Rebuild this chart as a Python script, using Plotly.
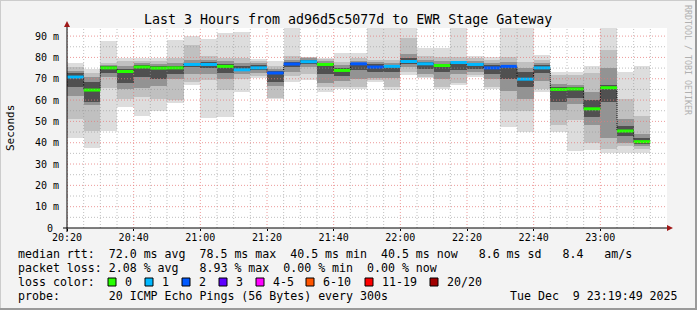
import plotly.graph_objects as go
import pandas as pd

DAY = "2025-12-09 "
bar_start = ["20:20", "20:25", "20:30", "20:35", "20:40", "20:45", "20:50", "20:55",
             "21:00", "21:05", "21:10", "21:15", "21:20", "21:25", "21:30", "21:35",
             "21:40", "21:45", "21:50", "21:55", "22:00", "22:05", "22:10", "22:15",
             "22:20", "22:25", "22:30", "22:35", "22:40", "22:45", "22:50", "22:55",
             "23:00", "23:05", "23:10"]
# RTT smoke (ms): min / percentiles / max per 5-minute step
rtt_min = [42.0, 37.6, 45.6, 56.6, 52.4, 54.7, 58.4, 67.2, 51.8, 52.2, 64.0, 70.2, 60.4, 68.5, 69.6, 64.0, 65.3, 65.0,
           68.7, 64.8, 71.9, 70.3, 65.0, 67.2, 71.0, 65.4, 47.6, 45.0, 64.0, 45.0, 36.0, 36.7, 35.2, 35.2, 35.2]
rtt_p10 = [51.0, 45.3, 65.6, 60.3, 61.6, 60.3, 60.0, 68.5, 69.6, 64.8, 70.0, 71.2, 61.0, 71.5, 72.0, 66.0, 66.0, 66.0,
           69.5, 66.0, 73.0, 71.0, 66.0, 68.0, 71.8, 66.0, 55.0, 55.0, 65.0, 48.5, 50.6, 40.0, 37.0, 38.3, 37.0]
rtt_p25 = [62.0, 57.5, 71.0, 65.4, 65.6, 66.4, 70.0, 72.0, 72.0, 70.0, 72.0, 72.5, 66.4, 73.0, 75.5, 68.0, 69.0, 70.0,
           70.5, 70.3, 75.5, 72.0, 70.0, 72.0, 73.0, 70.0, 64.4, 60.6, 69.0, 55.5, 58.0, 48.5, 42.0, 40.0, 38.5]
rtt_p40 = [66.0, 59.0, 72.5, 68.0, 71.0, 70.0, 72.0, 75.5, 75.0, 72.5, 73.5, 74.0, 68.5, 75.5, 77.0, 72.0, 71.5, 74.0,
           73.0, 73.0, 77.0, 74.5, 73.0, 74.2, 74.5, 72.0, 70.0, 66.0, 72.5, 59.0, 61.0, 52.0, 59.0, 43.0, 39.5]
rtt_med = [70.8, 64.7, 75.1, 73.4, 75.5, 75.0, 75.1, 76.7, 76.7, 75.8, 74.2, 75.1, 72.7, 76.9, 78.0, 76.7, 73.9, 77.0,
           75.5, 75.8, 78.1, 77.0, 76.2, 77.6, 76.7, 75.1, 75.8, 69.8, 75.1, 65.0, 65.2, 55.9, 65.8, 45.5, 40.5]
rtt_p60 = [72.5, 68.7, 75.8, 74.5, 76.5, 76.0, 76.0, 77.5, 78.0, 77.0, 76.0, 76.5, 73.5, 78.0, 79.0, 77.5, 75.0, 77.5,
           77.0, 76.5, 79.5, 78.0, 77.0, 77.5, 77.5, 76.5, 76.5, 73.4, 76.5, 66.0, 66.0, 60.0, 67.0, 48.0, 42.0]
rtt_p75 = [73.5, 71.0, 76.5, 76.0, 77.5, 77.0, 77.5, 79.0, 79.0, 78.5, 77.5, 77.5, 74.5, 79.0, 79.5, 78.5, 76.5, 78.5,
           78.0, 77.5, 81.7, 79.0, 78.5, 78.5, 78.5, 77.5, 78.0, 75.0, 77.5, 67.5, 67.0, 64.0, 75.0, 50.9, 44.0]
rtt_p90 = [75.7, 72.6, 77.3, 78.1, 78.5, 78.5, 79.7, 86.0, 80.5, 79.5, 79.7, 78.5, 76.0, 80.5, 80.0, 79.2, 78.0, 79.5,
           79.0, 79.0, 89.0, 80.5, 80.0, 80.4, 79.5, 79.0, 80.4, 78.0, 79.0, 71.9, 71.9, 72.7, 83.6, 60.3, 52.3]
rtt_max = [77.4, 74.7, 87.9, 79.7, 79.7, 79.7, 88.0, 90.0, 88.8, 91.4, 91.9, 79.4, 78.4, 95.0, 80.2, 79.7, 82.0, 82.3,
           95.0, 95.0, 95.0, 84.5, 84.3, 95.0, 80.5, 80.0, 95.0, 95.0, 81.2, 73.4, 73.4, 75.8, 95.0, 73.4, 75.8]
loss_class = [1, 0, 0, 0, 0, 0, 0, 1, 1, 0, 1, 1, 2, 2, 1, 0, 0, 2, 2, 1, 1, 1, 0, 1, 1, 2, 2, 1, 1, 0, 0, 0, 0, 0, 0]

loss_labels = ["0", "1", "2", "3", "4-5", "6-10", "11-19", "20/20"]
loss_colors = ["#26ff00", "#00b8ff", "#0059ff", "#5e00ff", "#ff00ff", "#ff5500", "#ff0000", "#a10000"]

y_tick_vals = [0, 10, 20, 30, 40, 50, 60, 70, 80, 90]
y_tick_text = ["0\u00a0", "10 m", "20 m", "30 m", "40 m", "50 m", "60 m", "70 m", "80 m", "90 m"]
x_tick_text = ["20:20", "20:40", "21:00", "21:20", "21:40", "22:00", "22:20", "22:40", "23:00"]

title_text = "Last 3 Hours from ad96d5c5077d to EWR Stage Gateway"
line1 = "median rtt:  72.0 ms avg  78.5 ms max  40.5 ms min  40.5 ms now   8.6 ms sd   8.4   am/s"
line2 = "packet loss: 2.08 % avg   8.93 % max  0.00 % min  0.00 % now"
line3 = "loss color:"
line4 = "probe:       20 ICMP Echo Pings (56 Bytes) every 300s"
date_text = "Tue Dec  9 23:19:49 2025"

# ---------------------------------------------------------------------------
STEP = pd.Timedelta(minutes=5)
t = [pd.Timestamp(DAY + s) for s in bar_start]
x0 = pd.Timestamp(DAY + "20:20")
x1 = pd.Timestamp(DAY + "23:20")
YMAX = 93.8
MONO = "DejaVu Sans Mono"

fig = go.Figure()
bands = [(rtt_min, rtt_max, "#dddddd"), (rtt_p10, rtt_p90, "#c0c0c0"),
         (rtt_p25, rtt_p75, "#939393"), (rtt_p40, rtt_p60, "#505050")]
for lo, hi, col in bands:
    fig.add_trace(go.Bar(x=t, y=[h - l for l, h in zip(lo, hi)], base=lo, offset=0,
                         width=STEP.total_seconds() * 1000, marker=dict(color=col, line=dict(width=0)),
                         hoverinfo="skip", showlegend=False))

# dotted black step line of the median
fig.add_trace(go.Scatter(x=t + [t[-1] + STEP], y=rtt_med + [rtt_med[-1]], mode="lines",
                         line=dict(color="black", width=1, dash="1px,1px", shape="hv"),
                         hoverinfo="skip", showlegend=False))
# coloured median segments
for k, col in enumerate(loss_colors):
    xs, ys = [], []
    for ti, m, c in zip(t, rtt_med, loss_class):
        if c == k:
            xs += [ti, ti + STEP, None]
            ys += [m, m, None]
    if xs:
        fig.add_trace(go.Scatter(x=xs, y=ys, mode="lines", line=dict(color=col, width=3),
                                 hoverinfo="skip", showlegend=False))

shapes = []
# grid (drawn above the smoke, like rrdtool)
minor_col = "rgba(150,150,150,0.6)"
major_col = "rgba(230,120,120,0.75)"
tt = x0
while tt < x1:
    major = (tt.minute % 20 == 0)
    shapes.append(dict(type="line", xref="x", yref="paper", x0=tt, x1=tt, y0=0, y1=1, layer="above",
                       line=dict(color=major_col if major else minor_col, width=1, dash="1px,2px")))
    tt += STEP
v = 5
while v < YMAX:
    major = (v % 10 == 0)
    shapes.append(dict(type="line", xref="paper", yref="y", x0=0, x1=1, y0=v, y1=v, layer="above",
                       line=dict(color=major_col if major else minor_col, width=1, dash="1px,2px")))
    v += 5

W, H, L, T = 600, 200, 67, 28


def px(x):
    return (x - L) / W


def py(y):
    return (T + H - y) / H


# axes lines and arrows
shapes.append(dict(type="line", xref="paper", yref="paper", x0=px(63), x1=px(670), y0=py(228), y1=py(228),
                   line=dict(color="black", width=1), layer="above"))
shapes.append(dict(type="line", xref="paper", yref="paper", x0=px(67), x1=px(67), y0=py(232), y1=py(24),
                   line=dict(color="black", width=1), layer="above"))
shapes.append(dict(type="path", xref="paper", yref="paper", layer="above",
                   path=f"M {px(667)},{py(225)} L {px(673)},{py(228)} L {px(667)},{py(231)} Z",
                   fillcolor="#a01818", line=dict(width=0)))
shapes.append(dict(type="path", xref="paper", yref="paper", layer="above",
                   path=f"M {px(64)},{py(27)} L {px(67)},{py(21)} L {px(70)},{py(27)} Z",
                   fillcolor="#a01818", line=dict(width=0)))
# image frame
shapes.append(dict(type="rect", xref="paper", yref="paper", x0=px(0), x1=px(697), y0=py(0), y1=py(310),
                   line=dict(color="#cccccc", width=2), layer="above"))
shapes.append(dict(type="line", xref="paper", yref="paper", x0=px(0), x1=px(697), y0=py(309), y1=py(309),
                   line=dict(color="#9a9a9a", width=2), layer="above"))
shapes.append(dict(type="line", xref="paper", yref="paper", x0=px(696), x1=px(696), y0=py(0), y1=py(310),
                   line=dict(color="#9a9a9a", width=2), layer="above"))

# loss colour legend boxes
box_left = [108, 145, 182, 219, 256, 306, 365, 430]
annotations = []
for bx, col, lab in zip(box_left, loss_colors, loss_labels):
    shapes.append(dict(type="rect", xref="paper", yref="paper", x0=px(bx), x1=px(bx + 8), y0=py(278), y1=py(286),
                       fillcolor=col, line=dict(color="black", width=1), layer="above"))
    annotations.append(dict(text=lab, x=px(bx + 15), y=py(282), xref="paper", yref="paper",
                            xanchor="left", yanchor="middle", showarrow=False,
                            font=dict(family=MONO, size=11.6, color="black")))


def nb(s):
    return s.replace(" ", "\u00a0")


for txt, yy in [(line1, 254), (line2, 268), (line3, 282), (line4, 296)]:
    annotations.append(dict(text=nb(txt), x=px(16), y=py(yy), xref="paper", yref="paper",
                            xanchor="left", yanchor="middle", showarrow=False,
                            font=dict(family=MONO, size=11.6, color="black")))
annotations.append(dict(text=nb(date_text), x=px(680), y=py(296), xref="paper", yref="paper",
                        xanchor="right", yanchor="middle", showarrow=False,
                        font=dict(family=MONO, size=11.6, color="black")))
annotations.append(dict(text=nb(title_text), x=px(348), y=py(19), xref="paper", yref="paper",
                        xanchor="center", yanchor="middle", showarrow=False,
                        font=dict(family=MONO, size=13.3, color="black")))
annotations.append(dict(text="Seconds", x=px(10), y=py(128), xref="paper", yref="paper",
                        xanchor="center", yanchor="middle", showarrow=False, textangle=-90,
                        font=dict(family=MONO, size=11, color="black")))
annotations.append(dict(text=nb("RRDTOOL / TOBI OETIKER"), x=px(688), y=py(60), xref="paper", yref="paper",
                        xanchor="center", yanchor="middle", showarrow=False, textangle=90,
                        font=dict(family=MONO, size=8.3, color="#b0b0b0")))

fig.update_layout(
    width=697, height=310,
    margin=dict(l=L, r=697 - L - W, t=T, b=310 - T - H, pad=0),
    paper_bgcolor="#f3f3f3", plot_bgcolor="white",
    barmode="overlay", bargap=0, showlegend=False,
    shapes=shapes, annotations=annotations,
    xaxis=dict(range=[x0, x1], type="date", showgrid=False, zeroline=False, showline=False,
               tickvals=[x0 + pd.Timedelta(minutes=20 * i) for i in range(len(x_tick_text))],
               ticktext=x_tick_text, ticks="outside", ticklen=2, tickcolor="black",
               ticklabelstandoff=-2,
               tickfont=dict(family=MONO, size=10, color="black"), fixedrange=True),
    yaxis=dict(range=[0, YMAX], showgrid=False, zeroline=False, showline=False,
               tickvals=y_tick_vals, ticktext=y_tick_text, ticks="", ticklabelstandoff=7,
               tickfont=dict(family=MONO, size=10, color="black"), fixedrange=True),
)

fig.write_html("out.html")
